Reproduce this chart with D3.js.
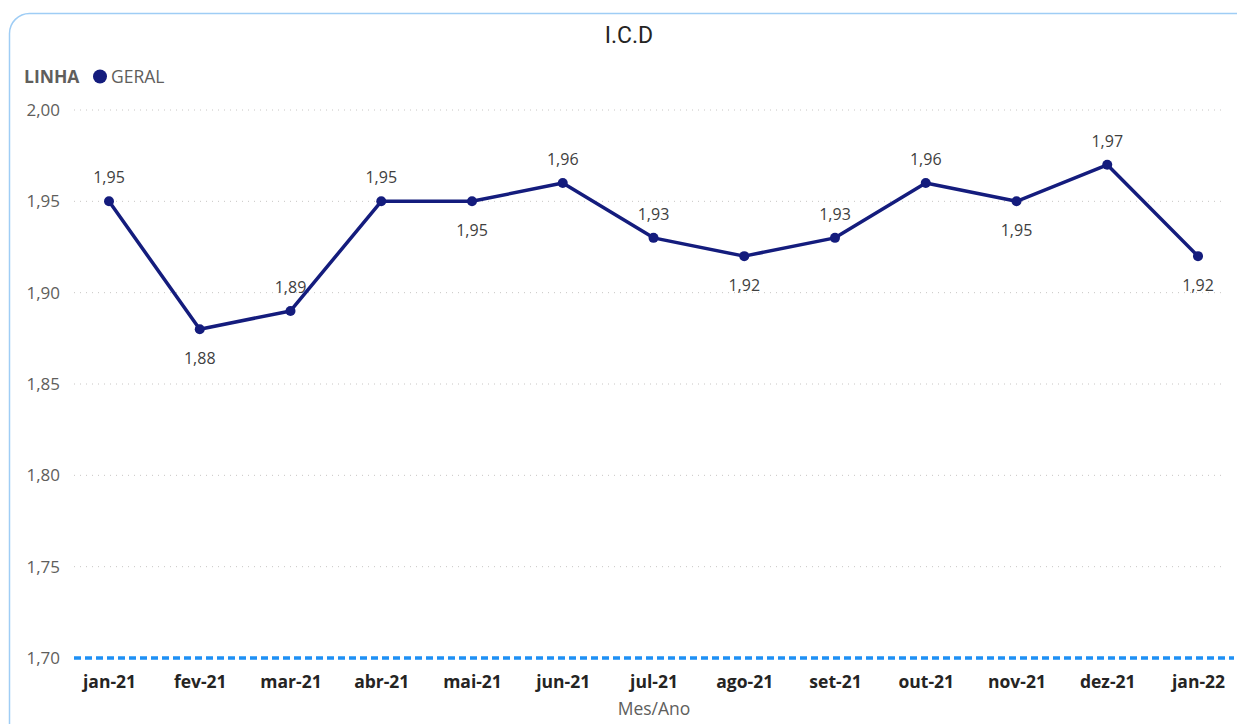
<!DOCTYPE html>
<html>
<head>
<meta charset="utf-8">
<script src="https://cdn.jsdelivr.net/npm/d3@7"></script>
<style>
  body { margin: 0; background: #fff; }
  svg { display: block; font-family: "Open Sans", "Noto Sans", sans-serif; }
</style>
</head>
<body>
<div id="chart"></div>
<script>
// data
var months = ["jan-21", "fev-21", "mar-21", "abr-21", "mai-21", "jun-21", "jul-21",
              "ago-21", "set-21", "out-21", "nov-21", "dez-21", "jan-22"];
var geral = [1.95, 1.88, 1.89, 1.95, 1.95, 1.96, 1.93, 1.92, 1.93, 1.96, 1.95, 1.97, 1.92];
// label above (1) or below (-1) the point
var labelSide = [1, -1, 1, 1, -1, 1, 1, -1, 1, 1, -1, 1, -1];
var yTicks = [1.70, 1.75, 1.80, 1.85, 1.90, 1.95, 2.00];
var refLine = 1.70;

var W = 1237, H = 724;
var svg = d3.select("#chart").append("svg")
    .attr("width", W)
    .attr("height", H);

// card border
svg.append("rect")
    .attr("x", 9.5).attr("y", 13.5)
    .attr("width", 1250).attr("height", 740)
    .attr("rx", 20).attr("ry", 20)
    .attr("fill", "#fff")
    .attr("stroke", "#9fcdf5")
    .attr("stroke-width", 1.5);

var fmt = function (v) { return d3.format(".2f")(v).replace(".", ","); };

var x = d3.scalePoint()
    .domain(months)
    .range([109, 1198]);

var y = d3.scaleLinear()
    .domain([1.70, 2.00])
    .range([658, 110]);

// title
svg.append("text")
    .attr("x", 629).attr("y", 43)
    .attr("text-anchor", "middle")
    .attr("font-family", "Roboto, sans-serif")
    .attr("font-size", 23)
    .attr("fill", "#252423")
    .text("I.C.D");

// legend
svg.append("text")
    .attr("x", 24).attr("y", 83)
    .attr("font-size", 17.5)
    .attr("font-weight", "bold")
    .attr("fill", "#605e5c")
    .text("LINHA");
svg.append("circle")
    .attr("cx", 100).attr("cy", 76.5).attr("r", 7)
    .attr("fill", "#141c7d");
svg.append("text")
    .attr("x", 111).attr("y", 83)
    .attr("font-size", 17.5)
    .attr("fill", "#605e5c")
    .text("GERAL");

// gridlines
svg.append("g")
    .selectAll("line")
    .data(yTicks.filter(function (d) { return d !== refLine; }))
    .enter().append("line")
    .attr("x1", 74).attr("x2", 1225)
    .attr("y1", function (d) { return y(d); })
    .attr("y2", function (d) { return y(d); })
    .attr("stroke", "#c8c6c4")
    .attr("stroke-width", 1)
    .attr("stroke-dasharray", "1,5");

// y axis
var yAxis = svg.append("g")
    .attr("transform", "translate(60,0)")
    .call(d3.axisLeft(y).tickValues(yTicks).tickFormat(fmt).tickSize(0).tickPadding(0));
yAxis.select(".domain").remove();
yAxis.selectAll("text")
    .attr("font-family", "Open Sans, sans-serif")
    .attr("font-size", 17)
    .attr("fill", "#605e5c");

// reference line at 1,70
svg.append("line")
    .attr("x1", 74).attr("x2", 1234)
    .attr("y1", y(refLine)).attr("y2", y(refLine))
    .attr("stroke", "#1e90f5")
    .attr("stroke-width", 3.5)
    .attr("stroke-dasharray", "7,4");

// x axis
var xAxis = svg.append("g")
    .attr("transform", "translate(0,676)")
    .call(d3.axisBottom(x).tickSize(0).tickPadding(0));
xAxis.select(".domain").remove();
xAxis.selectAll("text")
    .attr("font-family", "Open Sans, sans-serif")
    .attr("font-size", 17.5)
    .attr("font-weight", "bold")
    .attr("fill", "#252423");

svg.append("text")
    .attr("x", 654).attr("y", 715)
    .attr("text-anchor", "middle")
    .attr("font-size", 17.5)
    .attr("fill", "#605e5c")
    .text("Mes/Ano");

// series line
var line = d3.line()
    .x(function (d, i) { return x(months[i]); })
    .y(function (d) { return y(d); });

svg.append("path")
    .datum(geral)
    .attr("d", line)
    .attr("fill", "none")
    .attr("stroke", "#141c7d")
    .attr("stroke-width", 3.5)
    .attr("stroke-linejoin", "round");

svg.append("g")
    .selectAll("circle")
    .data(geral)
    .enter().append("circle")
    .attr("cx", function (d, i) { return x(months[i]); })
    .attr("cy", function (d) { return y(d); })
    .attr("r", 5)
    .attr("fill", "#141c7d");

// data labels
svg.append("g")
    .selectAll("text")
    .data(geral)
    .enter().append("text")
    .attr("x", function (d, i) { return x(months[i]); })
    .attr("y", function (d, i) { return labelSide[i] > 0 ? y(d) - 18 : y(d) + 35; })
    .attr("text-anchor", "middle")
    .attr("font-size", 16)
    .attr("fill", "#404040")
    .text(function (d) { return fmt(d); });
</script>
</body>
</html>
